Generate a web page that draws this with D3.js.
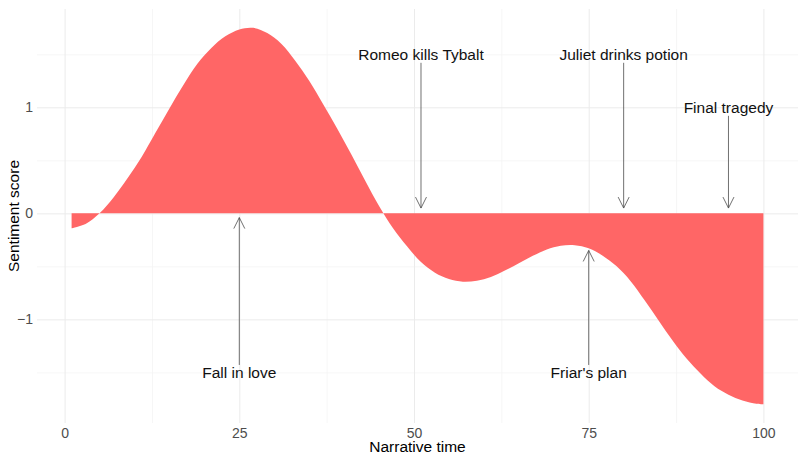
<!DOCTYPE html>
<html>
<head>
<meta charset="utf-8">
<script src="https://cdn.jsdelivr.net/npm/d3@7"></script>
<style>
  body { margin: 0; background: #fff; }
  text { font-family: "Liberation Sans", Arial, sans-serif; }
</style>
</head>
<body>
<div id="chart"></div>
<script>
// narrative time vs. sentiment score
const times = [1, 3, 5, 7, 9, 11, 13, 15, 17, 19, 21, 23, 25, 27, 29, 31, 33, 35, 37, 39,
  41, 43, 45, 47, 49, 51, 53, 55, 57, 59, 61, 63, 65, 67, 69, 71, 73, 75, 77, 79,
  81, 83, 85, 87, 89, 91, 93, 95, 97, 99, 100];
const scores = [-0.14, -0.10, 0.00, 0.15, 0.33, 0.53, 0.76, 0.99, 1.21, 1.41, 1.56, 1.67, 1.735, 1.75, 1.70, 1.60, 1.44, 1.25, 1.03, 0.80,
  0.56, 0.31, 0.07, -0.14, -0.31, -0.46, -0.56, -0.62, -0.645, -0.635, -0.60, -0.54, -0.47, -0.40, -0.34, -0.305, -0.30, -0.33, -0.40, -0.50,
  -0.64, -0.82, -1.01, -1.20, -1.37, -1.51, -1.63, -1.71, -1.765, -1.795, -1.80];

// annotations
const eventLabels = ["Fall in love", "Romeo kills Tybalt", "Friar's plan", "Juliet drinks potion", "Final tragedy"];
const eventTimes = [25, 51, 75, 80, 95];
const labelY = [-1.5, 1.5, -1.5, 1.5, 1.0];
const arrowFrom = [-1.43, 1.42, -1.43, 1.42, 0.92];
const arrowTo = [-0.04, 0.05, -0.35, 0.05, 0.05];

const xTicks = [0, 25, 50, 75, 100];
const xMinor = [12.5, 37.5, 62.5, 87.5];
const yTicks = [-1, 0, 1];
const yMinor = [-1.5, -0.5, 0.5, 1.5];

const W = 798, H = 457;
const margin = {top: 9, right: 0, bottom: 34, left: 37};
const iw = W - margin.left - margin.right;
const ih = H - margin.top - margin.bottom;

const svg = d3.select("#chart").append("svg")
  .attr("width", W).attr("height", H);

const g = svg.append("g")
  .attr("transform", `translate(${margin.left},${margin.top})`);

// ggplot-style 5% expansion
const xr = d3.extent(times), yr = d3.extent(scores);
const xpad = (xr[1] - xr[0]) * 0.05, ypad = (yr[1] - yr[0]) * 0.05;
const x = d3.scaleLinear().domain([xr[0] - xpad, xr[1] + xpad]).range([0, iw]);
const y = d3.scaleLinear().domain([yr[0] - ypad, yr[1] + ypad]).range([ih, 0]);

// grid
function grid(axis, vals, size, color, w) {
  g.append("g").call(axis.tickValues(vals).tickSize(size).tickFormat(""))
    .call(a => a.select(".domain").remove())
    .call(a => a.selectAll("line").attr("stroke", color).attr("stroke-width", w));
}
grid(d3.axisBottom(x), xMinor, ih, "#f4f4f4", 0.8);
grid(d3.axisLeft(y), yMinor, -iw, "#f4f4f4", 0.8);
grid(d3.axisBottom(x), xTicks, ih, "#ebebeb", 1);
grid(d3.axisLeft(y), yTicks, -iw, "#ebebeb", 1);

// area
const data = times.map((t, i) => ({t, s: scores[i]}));
const area = d3.area()
  .x(d => x(d.t))
  .y0(y(0))
  .y1(d => y(d.s))
  .curve(d3.curveCatmullRom.alpha(0.5));

g.append("path")
  .datum(data)
  .attr("d", area)
  .attr("fill", "#ff6666");

// arrows + labels
const ann = g.append("g");
eventLabels.forEach((lab, i) => {
  const px = x(eventTimes[i]);
  const y1 = y(arrowFrom[i]), y2 = y(arrowTo[i]);
  const dir = y2 > y1 ? 1 : -1;
  const hl = 11, hw = 5.5;
  ann.append("line")
    .attr("x1", px).attr("x2", px).attr("y1", y1).attr("y2", y2)
    .attr("stroke", "#4d4d4d").attr("stroke-width", 0.8);
  ann.append("path")
    .attr("d", `M${px - hw},${y2 - dir * hl}L${px},${y2}L${px + hw},${y2 - dir * hl}`)
    .attr("fill", "none").attr("stroke", "#4d4d4d").attr("stroke-width", 0.8);
  ann.append("text")
    .attr("x", px).attr("y", y(labelY[i]))
    .attr("dy", "0.35em")
    .attr("text-anchor", "middle")
    .attr("font-size", 15.5)
    .attr("fill", "#111")
    .text(lab);
});

// axes labels
g.append("g")
  .attr("transform", `translate(0,${ih})`)
  .call(d3.axisBottom(x).tickValues(xTicks).tickSize(0).tickPadding(5).tickFormat(d3.format("d")))
  .call(a => a.select(".domain").remove())
  .call(a => a.selectAll("text").attr("font-size", 14).attr("fill", "#4d4d4d")
    .style("font-family", '"Liberation Sans", Arial, sans-serif'));

g.append("g")
  .call(d3.axisLeft(y).tickValues(yTicks).tickSize(0).tickPadding(4).tickFormat(d3.format("d")))
  .call(a => a.select(".domain").remove())
  .call(a => a.selectAll("text").attr("font-size", 14).attr("fill", "#4d4d4d")
    .style("font-family", '"Liberation Sans", Arial, sans-serif'));

svg.append("text")
  .attr("x", margin.left + iw / 2)
  .attr("y", H - 5)
  .attr("text-anchor", "middle")
  .attr("font-size", 15.5)
  .attr("fill", "#000")
  .text("Narrative time");

svg.append("text")
  .attr("transform", `translate(19,${margin.top + ih / 2}) rotate(-90)`)
  .attr("text-anchor", "middle")
  .attr("font-size", 15.5)
  .attr("fill", "#000")
  .text("Sentiment score");
</script>
</body>
</html>
